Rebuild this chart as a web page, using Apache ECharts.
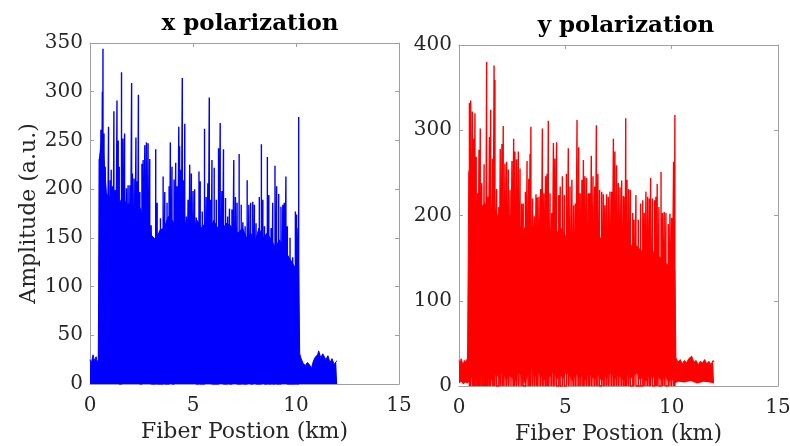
<!DOCTYPE html>
<html lang="en">
<head>
    <meta charset="UTF-8">
    <title>Polarization amplitude</title>
    <script src="https://cdn.jsdelivr.net/npm/echarts@6/dist/echarts.min.js"></script>
    <style>
        html, body { margin: 0; padding: 0; background: #fff; }
    </style>
</head>
<body>
<div id="main" style="width: 790px;height:446px;"></div>
<script type="text/javascript">
    // x polarization: dense body envelope (km, amplitude)
    var bodyKmX = [0, 0.05, 0.1, 0.15, 0.2, 0.25, 0.3, 0.35, 0.4, 0.44,
        0.46, 0.5, 0.6, 0.7, 0.8, 1.0, 1.2, 1.4, 1.6, 1.8, 2.0, 2.2, 2.4, 2.6, 2.8, 3.0,
        3.2, 3.4, 3.6, 3.8, 4.0, 4.2, 4.4, 4.6, 4.8, 5.0, 5.2, 5.4, 5.6, 5.8, 6.0,
        6.2, 6.4, 6.6, 6.8, 7.0, 7.2, 7.4, 7.6, 7.8, 8.0, 8.2, 8.4, 8.6, 8.8, 9.0,
        9.2, 9.4, 9.6, 9.8, 10.0, 10.1, 10.15,
        10.18, 10.25, 10.35, 10.45, 10.55, 10.65, 10.75, 10.85, 10.95, 11.05, 11.1,
        11.2, 11.3, 11.37, 11.45, 11.55, 11.65, 11.75, 11.85, 11.95, 12.0];
    var bodyAmpX = [25, 20, 22, 30, 24, 22, 28, 22, 25, 26,
        232, 240, 255, 225, 195, 192, 188, 185, 192, 183, 188, 178, 182, 172, 168, 152,
        148, 158, 160, 172, 168, 160, 148, 165, 170, 160, 168, 160, 165, 155, 168,
        160, 155, 165, 163, 158, 155, 160, 150, 155, 145, 160, 150, 155, 148, 140,
        148, 138, 132, 125, 118, 160, 160,
        31, 26, 21, 19, 22, 20, 16, 24, 28, 30, 34,
        27, 31, 33, 25, 29, 22, 26, 20, 23, 24];

    // x polarization: individual spikes
    var spikeKmX = [0.45, 0.53, 0.60, 0.63, 0.68, 0.74, 0.81, 0.90, 0.98, 1.03, 1.10, 1.16,
        1.23, 1.31, 1.37, 1.42, 1.53, 1.60, 1.68, 1.77, 1.85, 1.94, 2.02, 2.06, 2.14,
        2.23, 2.29, 2.35, 2.42, 2.52, 2.58, 2.66, 2.74, 2.82, 2.90, 2.97, 3.19, 3.26,
        3.42, 3.55, 3.63, 3.74, 3.84, 3.90, 3.98, 4.08, 4.16, 4.23, 4.31, 4.35, 4.40,
        4.48, 4.55, 4.60, 4.68, 4.76, 4.84, 4.92, 5.00, 5.08, 5.16, 5.29, 5.35, 5.45,
        5.56, 5.64, 5.72, 5.79, 5.85, 5.92, 6.03, 6.13, 6.24, 6.32, 6.40, 6.48, 6.58,
        6.68, 6.77, 6.89, 6.98, 7.06, 7.14, 7.24, 7.34, 7.42, 7.53, 7.63, 7.71, 7.80,
        7.90, 7.98, 8.06, 8.22, 8.32, 8.39, 8.47, 8.61, 8.68, 8.79, 8.87, 8.98, 9.06,
        9.16, 9.27, 9.36, 9.43, 9.51, 9.58, 9.71, 9.84, 9.97, 10.03, 10.13];
    var spikeAmpX = [231, 261, 300, 344, 257, 223, 179, 264, 209, 220, 203, 280,
        199, 291, 250, 223, 320, 252, 257, 201, 204, 204, 309, 216, 211,
        253, 208, 297, 197, 226, 230, 245, 248, 247, 231, 163, 241, 186,
        170, 213, 197, 186, 203, 248, 223, 210, 227, 203, 264, 244, 220,
        314, 209, 267, 172, 189, 225, 216, 198, 200, 171, 218, 208, 177,
        262, 192, 206, 294, 189, 230, 222, 189, 242, 268, 198, 241, 191,
        172, 180, 179, 230, 192, 186, 236, 184, 166, 162, 209, 184, 186,
        187, 184, 165, 192, 246, 189, 162, 233, 194, 160, 186, 224, 203,
        195, 182, 184, 186, 213, 162, 150, 130, 177, 174, 274];

    // y polarization: dense body envelope (km, amplitude)
    var bodyKmY = [0, 0.05, 0.1, 0.15, 0.2, 0.25, 0.3, 0.35, 0.4, 0.44,
        0.46, 0.5, 0.6, 0.8, 1.0, 1.2, 1.4, 1.6, 1.8, 2.0, 2.2, 2.4, 2.6, 2.8, 3.0,
        3.2, 3.4, 3.6, 3.8, 4.0, 4.2, 4.4, 4.6, 4.8, 5.0, 5.2, 5.4, 5.6, 5.8, 6.0,
        6.2, 6.4, 6.6, 6.8, 7.0, 7.2, 7.4, 7.6, 7.8, 8.0, 8.2, 8.4, 8.6, 8.8, 9.0,
        9.2, 9.4, 9.6, 9.8, 10.0, 10.15,
        10.2, 10.3, 10.4, 10.5, 10.6, 10.7, 10.8, 10.94, 11.05, 11.15, 11.25, 11.35,
        11.45, 11.55, 11.65, 11.75, 11.85, 11.95, 12.0];
    var bodyAmpY = [30, 26, 32, 28, 25, 30, 27, 31, 28, 30,
        250, 255, 240, 210, 200, 215, 205, 215, 200, 205, 192, 200, 195, 190, 182,
        190, 185, 190, 180, 185, 178, 188, 180, 185, 176, 180, 180, 175, 180, 170,
        180, 175, 175, 170, 175, 165, 170, 165, 170, 160, 168, 163, 158, 163, 155,
        158, 152, 148, 142, 145, 135,
        33, 28, 31, 26, 30, 27, 32, 35, 28, 30, 25, 29,
        27, 31, 26, 29, 25, 30, 28];

    // y polarization: lower edge of the trace (white notches below it)
    var floorKmY = [0, 0.1, 0.2, 0.3, 0.4, 0.5, 0.6, 0.7, 0.8, 0.9, 1.0, 1.15, 1.3, 1.45,
        1.6, 1.75, 1.9, 2.05, 2.2, 2.35, 2.5, 2.65, 2.8, 2.95, 3.1, 3.25, 3.4, 3.55,
        3.7, 3.85, 4.0, 4.15, 4.3, 4.45, 4.6, 4.75, 4.9, 5.05, 5.2, 5.35, 5.5, 5.65,
        5.8, 5.95, 6.1, 6.25, 6.4, 6.55, 6.7, 6.85, 7.0, 7.15, 7.3, 7.45, 7.6, 7.75,
        7.9, 8.05, 8.2, 8.35, 8.5, 8.65, 8.8, 8.95, 9.1, 9.25, 9.4, 9.55, 9.7, 9.85,
        10.0, 10.15, 10.3, 10.6, 10.9, 11.2, 11.5, 11.8, 12.0];
    var floorAmpY = [3, 5, 2, 4, 3, 6, 10, 4, 12, 7, 9, 25, 6, 10,
        4, 14, 8, 18, 6, 12, 9, 5, 16, 10, 3, 13, 20, 9,
        15, 11, 6, 14, 10, 18, 7, 13, 8, 16, 11, 5, 14, 9,
        12, 6, 15, 10, 8, 13, 5, 11, 9, 16, 7, 12, 10, 6,
        13, 8, 11, 15, 7, 10, 5, 12, 8, 14, 9, 6, 11, 4,
        8, 3, 5, 4, 6, 3, 5, 4, 3];

    // y polarization: individual spikes
    var spikeKmY = [0.49, 0.55, 0.63, 0.69, 0.75, 0.81, 0.88, 0.94, 1.00, 1.07, 1.13, 1.18,
        1.24, 1.30, 1.36, 1.43, 1.49, 1.58, 1.65, 1.69, 1.77, 1.87, 1.94, 2.02, 2.08,
        2.16, 2.24, 2.32, 2.40, 2.49, 2.57, 2.63, 2.71, 2.79, 2.87, 2.95, 3.02, 3.12,
        3.20, 3.28, 3.34, 3.38, 3.46, 3.54, 3.62, 3.68, 3.76, 3.84, 3.92, 3.99, 4.07,
        4.14, 4.20, 4.28, 4.36, 4.44, 4.51, 4.59, 4.69, 4.76, 4.86, 4.95, 5.05, 5.14,
        5.22, 5.31, 5.39, 5.47, 5.55, 5.63, 5.70, 5.78, 5.85, 5.92, 6.00, 6.08, 6.14,
        6.22, 6.30, 6.38, 6.46, 6.53, 6.61, 6.71, 6.79, 6.86, 6.94, 7.02, 7.10, 7.18,
        7.26, 7.33, 7.41, 7.49, 7.57, 7.65, 7.73, 7.80, 7.84, 7.90, 7.98, 8.06, 8.17,
        8.23, 8.32, 8.43, 8.54, 8.64, 8.71, 8.79, 8.87, 8.95, 9.01, 9.10, 9.20, 9.26,
        9.32, 9.40, 9.50, 9.57, 9.65, 9.73, 9.84, 9.92, 10.00, 10.09, 10.12, 10.15];
    var spikeAmpY = [332, 335, 322, 290, 320, 269, 226, 277, 302, 238, 212, 260,
        212, 380, 222, 292, 324, 267, 376, 359, 231, 210, 278, 284, 305,
        261, 263, 254, 230, 264, 290, 275, 266, 275, 255, 214, 214, 228,
        264, 243, 272, 304, 220, 199, 225, 221, 222, 231, 302, 226, 246,
        249, 311, 226, 203, 285, 267, 286, 224, 234, 246, 224, 249, 279,
        234, 242, 212, 214, 312, 280, 226, 242, 265, 246, 244, 226, 226,
        270, 246, 234, 306, 249, 230, 228, 225, 212, 225, 222, 228, 228,
        290, 275, 259, 238, 233, 241, 223, 222, 314, 242, 231, 230, 203,
        195, 224, 195, 214, 218, 203, 228, 222, 220, 244, 220, 218, 222,
        237, 210, 251, 203, 204, 203, 190, 202, 197, 263, 249, 318];

    var blue = '#0000ff';
    var red = '#ff0000';
    var txt = '#262626';
    var frame = '#a0a0a0';
    var serif = '"DejaVu Serif", serif';

    function pairs(km, amp) {
        var d = [];
        for (var i = 0; i < km.length; i++) d.push([km[i], amp[i]]);
        return d;
    }

    // each spike is drawn as a vertical stroke from 0 up to its peak
    function spikes(km, amp) {
        var d = [];
        for (var i = 0; i < km.length; i++) {
            d.push([km[i], 0], [km[i], amp[i]], [km[i], 0]);
        }
        return d;
    }

    function xAxisCfg(grid, pos, showLabel) {
        return {
            type: 'value', gridIndex: grid, position: pos,
            min: 0, max: 15, interval: 5,
            name: showLabel ? 'Fiber Postion (km)' : '',
            nameLocation: 'middle', nameGap: 36,
            nameTextStyle: {fontFamily: serif, fontSize: 22, color: txt},
            axisLine: {show: true, onZero: false, lineStyle: {color: frame, width: 1}},
            axisTick: {show: true, inside: true, length: 4, lineStyle: {color: frame}},
            axisLabel: {show: showLabel, fontFamily: serif, fontSize: 20, color: txt, margin: 12},
            splitLine: {show: false}
        };
    }

    function yAxisCfg(grid, pos, max, step, showLabel, name) {
        return {
            type: 'value', gridIndex: grid, position: pos,
            min: 0, max: max, interval: step,
            name: name || '',
            nameLocation: 'middle', nameGap: 50,
            nameTextStyle: {fontFamily: serif, fontSize: 22, color: txt},
            axisLine: {show: true, onZero: false, lineStyle: {color: frame, width: 1}},
            axisTick: {show: true, inside: true, length: 4, lineStyle: {color: frame}},
            axisLabel: {show: showLabel, fontFamily: serif, fontSize: 20, color: txt, margin: 7},
            splitLine: {show: false}
        };
    }

    var myChart = echarts.init(document.getElementById('main'), null, {renderer: 'canvas'});

    myChart.setOption({
        animation: false,
        backgroundColor: '#fff',
        title: [
            {text: 'x polarization', left: 245, top: 8, textAlign: 'center',
                textStyle: {fontFamily: serif, fontSize: 23, fontWeight: 'bold', color: '#000'}},
            {text: 'y polarization', left: 621, top: 10, textAlign: 'center',
                textStyle: {fontFamily: serif, fontSize: 23, fontWeight: 'bold', color: '#000'}}
        ],
        grid: [
            {left: 90, top: 43, width: 309, height: 341, outerBoundsMode: 'none', containLabel: false},
            {left: 459, top: 45, width: 319, height: 341, outerBoundsMode: 'none', containLabel: false}
        ],
        xAxis: [
            xAxisCfg(0, 'bottom', true),
            xAxisCfg(0, 'top', false),
            xAxisCfg(1, 'bottom', true),
            xAxisCfg(1, 'top', false)
        ],
        yAxis: [
            yAxisCfg(0, 'left', 350, 50, true, 'Amplitude (a.u.)'),
            yAxisCfg(0, 'right', 350, 50, false),
            yAxisCfg(1, 'left', 400, 100, true),
            yAxisCfg(1, 'right', 400, 100, false)
        ],
        series: [
            {
                name: 'x body', type: 'line', xAxisIndex: 0, yAxisIndex: 0,
                data: pairs(bodyKmX, bodyAmpX), symbol: 'none', silent: true, z: 2,
                lineStyle: {color: blue, width: 1}, areaStyle: {color: blue, opacity: 1}
            },
            {
                name: 'x spikes', type: 'line', xAxisIndex: 0, yAxisIndex: 0,
                data: spikes(spikeKmX, spikeAmpX), symbol: 'none', silent: true, z: 4,
                lineStyle: {color: blue, width: 1.4}
            },
            {
                name: 'y body', type: 'line', xAxisIndex: 2, yAxisIndex: 2,
                data: pairs(bodyKmY, bodyAmpY), symbol: 'none', silent: true, z: 2,
                lineStyle: {color: red, width: 1}, areaStyle: {color: red, opacity: 1}
            },
            {
                name: 'y floor', type: 'line', xAxisIndex: 2, yAxisIndex: 2,
                data: pairs(floorKmY, floorAmpY), symbol: 'none', silent: true, z: 3,
                lineStyle: {width: 0}, areaStyle: {color: '#fff', opacity: 1}
            },
            {
                name: 'y spikes', type: 'line', xAxisIndex: 2, yAxisIndex: 2,
                data: spikes(spikeKmY, spikeAmpY), symbol: 'none', silent: true, z: 4,
                lineStyle: {color: red, width: 1.4}
            }
        ]
    });
</script>
</body>
</html>
